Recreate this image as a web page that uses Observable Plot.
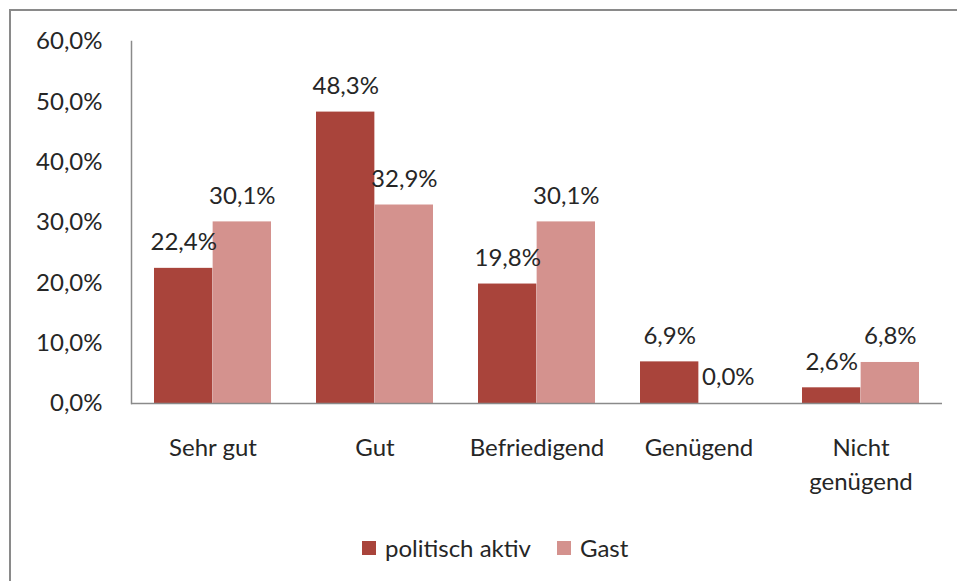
<!DOCTYPE html>
<html><head><meta charset="utf-8">
<script src="https://cdn.jsdelivr.net/npm/d3@7"></script>
<script src="https://cdn.jsdelivr.net/npm/@observablehq/plot@0.6"></script>
<style>
html,body{margin:0;padding:0;background:#fff;overflow:hidden;}
#wrap{position:relative;width:957px;height:581px;font-family:Lato,"Open Sans",sans-serif;}
#border{position:absolute;left:9px;top:9px;width:1000px;height:1000px;border:2px solid #8a8a8a;box-sizing:border-box;}
#chart{position:absolute;left:0;top:0;}
#legend{position:absolute;left:362px;top:534px;height:28px;display:flex;align-items:center;gap:26px;font-size:24px;line-height:28px;color:#262626;}
#legend span.item{display:flex;align-items:center;gap:9px;}
#legend span.sw{width:14px;height:14px;display:inline-block;}
</style></head>
<body><div id="wrap"><div id="border"></div><div id="chart"></div><div id="legend"></div></div>
<script>
const categories = ["Sehr gut", "Gut", "Befriedigend", "Genügend", "Nicht genügend"];
const series = ["politisch aktiv", "Gast"];
const aktivValues = [22.4, 48.3, 19.8, 6.9, 2.6];
const gastValues = [30.1, 32.9, 30.1, 0.0, 6.8];
const yTicks = [0, 10, 20, 30, 40, 50, 60];
const colors = ["#A9443B", "#D4928E"];

const fmt = d => d.toFixed(1).replace(".", ",") + "%";
const catLabel = d => d === "Nicht genügend" ? "Nicht\ngenügend" : d;

const rows = [];
categories.forEach((c, i) => {
  rows.push({category: c, series: series[0], value: aktivValues[i]});
  rows.push({category: c, series: series[1], value: gastValues[i]});
});

const W = 957, H = 500;
const xOpts = {domain: categories, paddingInner: 0.277, paddingOuter: 0.1385, align: 0.5};
const xScale = Plot.scale({x: {...xOpts, type: "band", range: [131, W - 15]}});
const bw = xScale.bandwidth;
const font = "Lato, 'Open Sans', sans-serif";
const FS = 24;

const chart = Plot.plot({
  width: W, height: H,
  marginLeft: 131, marginRight: 15, marginTop: 41, marginBottom: 97,
  style: {fontFamily: font, fontSize: FS + "px", color: "#262626", background: "transparent"},
  x: {...xOpts, label: null, axis: null},
  y: {domain: [0, 60], label: null, axis: null},
  marks: [
    Plot.barY(rows.filter(d => d.series === series[0]), {x: "category", y: "value", fill: colors[0], insetRight: bw / 2}),
    Plot.barY(rows.filter(d => d.series === series[1]), {x: "category", y: "value", fill: colors[1], insetLeft: bw / 2}),
    Plot.text(rows.filter(d => d.series === series[0]), {x: "category", y: "value", text: d => fmt(d.value), dx: -bw / 4, dy: -26, fill: "#262626", fontSize: FS}),
    Plot.text(rows.filter(d => d.series === series[1]), {x: "category", y: "value", text: d => fmt(d.value), dx: bw / 4, dy: -26, fill: "#262626", fontSize: FS}),
    Plot.frame({anchor: "left", stroke: "#8a8a8a", strokeWidth: 1.5}),
    Plot.ruleY([0], {stroke: "#8a8a8a", strokeWidth: 1.5}),
    Plot.axisY({ticks: yTicks, tickFormat: fmt, tickSize: 0, tickPadding: 29, fontSize: FS, fill: "#262626", label: null}),
    Plot.axisX({tickFormat: catLabel, tickSize: 0, tickPadding: 28, fontSize: FS, lineHeight: 1.42, fill: "#262626", label: null})
  ]
});
document.getElementById("chart").appendChild(chart);

const legend = document.getElementById("legend");
series.forEach((s, i) => {
  const item = document.createElement("span");
  item.className = "item";
  const sw = document.createElement("span");
  sw.className = "sw";
  sw.style.background = colors[i];
  item.appendChild(sw);
  item.appendChild(document.createTextNode(s));
  legend.appendChild(item);
});
</script></body></html>
